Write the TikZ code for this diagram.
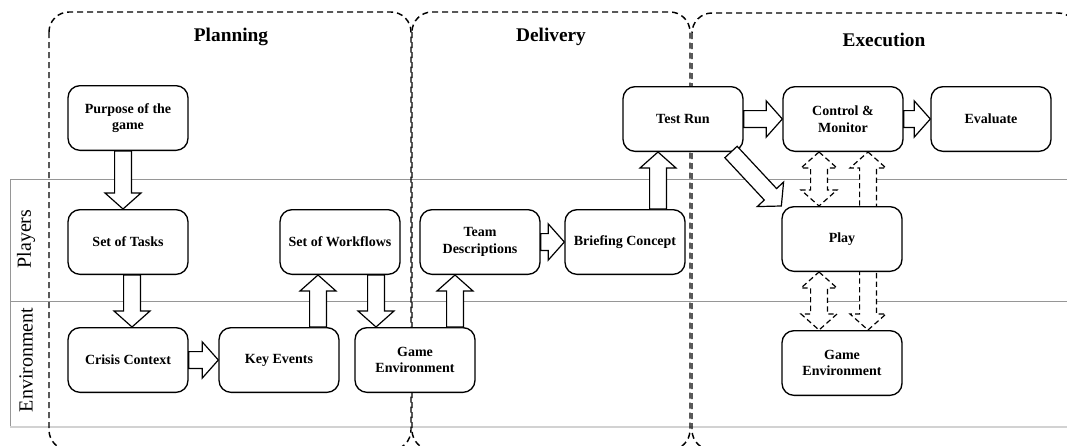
\documentclass[tikz,border=0pt]{standalone}
\usepackage{fontspec}
\setmainfont{Liberation Serif}
\usetikzlibrary{calc}
\definecolor{lanegray}{RGB}{150,150,150}
\definecolor{lanelight}{RGB}{210,210,210}
\tikzset{
  stage/.style={rounded corners=15pt, line width=1.1pt, dash pattern=on 4.5pt off 3pt},
  stagetitle/.style={font=\bfseries\fontsize{14.5}{17}\selectfont},
  lanelabel/.style={rotate=90, font=\fontsize{15}{18}\selectfont},
  box/.style={draw, fill=white, rounded corners=9pt, line width=1pt,
    minimum width=90pt, minimum height=48.5pt, align=center,
    font=\bfseries\fontsize{10.5}{12.5}\selectfont},
  blockarr/.style={draw, fill=white, line width=0.9pt, line join=miter},
  dashedarr/.style={blockarr, dash pattern=on 4pt off 2.5pt},
}
\pgfdeclarelayer{lanes}
\pgfdeclarelayer{hidden}
\pgfsetlayers{lanes,hidden,main}
\newcommand{\bashaft}{6.3pt}
\newcommand{\bawing}{13.5pt}
\newcommand{\bahead}{12pt}
% hollow block arrow from #2 to #3
\newcommand{\blockarrow}[3][]{%
  \coordinate (ba-s) at (#2);
  \coordinate (ba-e) at (#3);
  \coordinate (ba-h) at ($(ba-e)!\bahead!(ba-s)$);
  \path[blockarr,#1] ($(ba-s)!\bashaft!90:(ba-e)$) -- ($(ba-h)!\bashaft!90:(ba-e)$)
    -- ($(ba-h)!\bawing!90:(ba-e)$) -- (ba-e) -- ($(ba-h)!\bawing!-90:(ba-e)$)
    -- ($(ba-h)!\bashaft!-90:(ba-e)$) -- ($(ba-s)!\bashaft!-90:(ba-e)$) -- cycle;
}
% dashed block arrow with two heads
\newcommand{\dblarrow}[3][]{%
  \coordinate (ba-s) at (#2);
  \coordinate (ba-e) at (#3);
  \coordinate (ba-h) at ($(ba-e)!\bahead!(ba-s)$);
  \coordinate (ba-g) at ($(ba-s)!\bahead!(ba-e)$);
  \path[dashedarr,#1] (ba-s) -- ($(ba-g)!\bawing!90:(ba-e)$) -- ($(ba-g)!\bashaft!90:(ba-e)$)
    -- ($(ba-h)!\bashaft!90:(ba-e)$) -- ($(ba-h)!\bawing!90:(ba-e)$) -- (ba-e)
    -- ($(ba-h)!\bawing!-90:(ba-e)$) -- ($(ba-h)!\bashaft!-90:(ba-e)$)
    -- ($(ba-g)!\bashaft!-90:(ba-e)$) -- ($(ba-g)!\bawing!-90:(ba-e)$) -- cycle;
}

\begin{document}
\begin{tikzpicture}[x=0.75pt, y=-0.75pt]
    \useasboundingbox (0,0) rectangle (1067,446);

    \begin{pgfonlayer}{lanes}
        % Swim lanes
        \draw[lanegray] (10,179) -- (1067,179);
        \draw[lanegray] (10,301) -- (1067,301);
        \draw[lanegray] (10,179) -- (10,427);
        \draw[lanelight, line width=1pt] (10,427) -- (1067,427);
        \node[lanelabel] (players) at (26,239) {Players};
        \node[lanelabel] (environment) at (26,360) {Environment};

        % Stages
        \draw[stage] (49,12) rectangle (411,450);
        \draw[stage] (412,12) rectangle (690,450);
        \draw[stage] (692,13) rectangle (1078,450);
    \end{pgfonlayer}

    \node[stagetitle] (planning) at (231,37) {Planning};
    \node[stagetitle] (delivery) at (551,37) {Delivery};
    \node[stagetitle] (execution) at (884,40) {Execution};

    % Planning
    \node[box] (purpose) at (128,118) {Purpose of the\\game};
    \node[box] (tasks) at (128,242) {Set of Tasks};
    \node[box] (crisis) at (128,360) {Crisis Context};
    \node[box] (keyev) at (279,360) {Key Events};
    \node[box] (workflows) at (340,242) {Set of Workflows};
    \node[box] (gameenv) at (415,360) {Game\\Environment};

    % Delivery
    \node[box] (team) at (480,242) {Team\\Descriptions};
    \node[box] (briefing) at (625,242) {Briefing Concept};
    \node[box] (testrun) at (683,119) {Test Run};

    % Execution
    \node[box] (control) at (843,119) {Control \&\\Monitor};
    \node[box] (evaluate) at (991,119) {Evaluate};
    \node[box] (play) at (842,239) {Play};
    \node[box] (playenv) at (842,363) {Game\\Environment};

    % Flow
    \blockarrow{$(purpose.south)+(-5,0)$}{ba-s |- tasks.north}
    \blockarrow{$(tasks.south)+(4,0)$}{ba-s |- crisis.north}
    \blockarrow{crisis.east}{keyev.west}
    \blockarrow{$(keyev.north)+(39,0)$}{ba-s |- workflows.south}
    \blockarrow{$(workflows.south)+(36,0)$}{ba-s |- gameenv.north}
    \blockarrow{$(gameenv.north)+(40,0)$}{ba-s |- team.south}
    \blockarrow{team.east}{briefing.west}
    \blockarrow{$(briefing.north)+(33,0)$}{ba-s |- testrun.south}
    \blockarrow{testrun.east}{control.west}
    \blockarrow{control.east}{evaluate.west}
    \blockarrow{$(testrun.south)+(48,0)$}{play.north west}

    % Feedback
    \dblarrow{$(control.south)+(-24,0)$}{ba-s |- play.north}
    \dblarrow{$(play.south)+(-23,0)$}{ba-s |- playenv.north}
    \begin{pgfonlayer}{hidden}
        \dblarrow{$(control.south)+(25,0)$}{ba-s |- playenv.north}
    \end{pgfonlayer}
\end{tikzpicture}
\end{document}
